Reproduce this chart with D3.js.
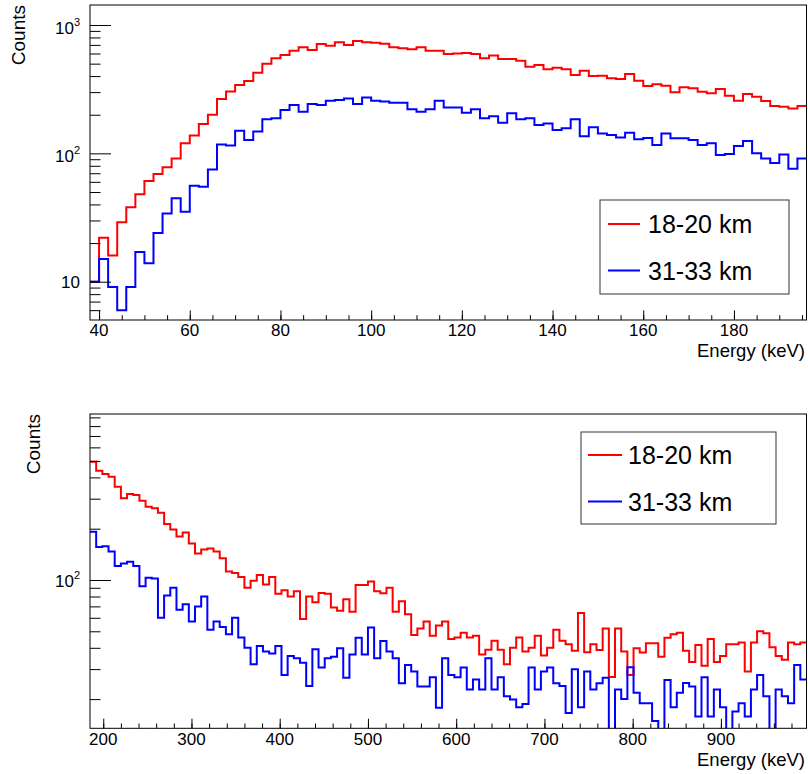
<!DOCTYPE html>
<html><head><meta charset="utf-8">
<script src="https://cdn.jsdelivr.net/npm/d3@7"></script>
<style>
body{margin:0;background:#fff}
svg{display:block}
text{font-family:"Liberation Sans",Arial,Helvetica,sans-serif;fill:#000}
</style>
</head><body>
<svg id="c" width="808" height="774"></svg>
<script>
// ---------------- data ----------------
const seriesLabels = ["18-20 km", "31-33 km"];
const seriesColors = ["#ff0000", "#0000ff"];
const yTitle = "Counts";
const xTitle = "Energy (keV)";

// top histogram: 2 keV bins starting at 38 keV
const topBinStart = 38, topBinWidth = 2;
const topRed = [10,22,16,29,38,48,61,69,78,91,120,138,169,200,265,303,341,366,425,500,
  550,583,631,670,638,711,690,733,698,750,733,728,715,670,658,646,670,631,631,594,
  601,605,594,550,580,543,543,527,473,487,452,465,452,408,441,400,403,384,380,415,
  368,335,345,337,299,327,321,302,294,317,281,257,290,276,256,234,231,224,234];
const topBlue = [10,15,9.1,6,9.1,17,13.9,24,34,44.6,35,56,55,75,117,115,150,127,148,184,
  188,218,238,211,242,238,257,260,268,242,273,257,253,248,248,221,211,221,257,228,
  228,207,221,188,195,173,205,184,188,166,171,152,157,184,136,160,143,139,133,145,
  129,132,116,143,131,131,127,116,120,97,99,114,125,100,91,84,98,76,91];
const topXTicks = [40,60,80,100,120,140,160,180];
const topYTicks = [10,100,1000];

// bottom histogram: 7 keV bins starting at 185 keV
const botBinStart = 185, botBinWidth = 7;
const botRed = [494,438,419,404,353,302,320,315,292,269,264,248,213,198,180,190,164,143,151,153,
  147,134,112,110,104,90,99,107,94,104,83,87,80,86,59,80,74,84,83,69,
  66,77,65,93.5,93.5,98,86,83.5,90,65,75,63,47.5,52,57,47,54,57,45,46,
  49,46,47,36.6,39,44,39,32,40,46,38,40,47,36,40,51,44,42,38.5,64,
  37.7,42,38.8,52,27,52,38,27.7,39.7,37.5,42.5,42.5,35.5,45.8,48,49,38.5,33,41.5,31.4,
  45,33,35.8,42,42,43,29,43,50,48.7,40.3,35.8,34,43,42,43];
const botBlue = [192,156,158,147,121,125,128,121,92,103,102,60,81,90,67,72,57,70,80,51,
  57,53,48,60,46,40,32,41,38,37,41,27.7,35.8,34.7,32.7,23.9,39.2,30.7,34.7,35.5,
  39.7,26.7,36.6,45.8,36.6,52.7,34.7,43.9,38,34.7,24.8,31.7,29,23.7,23.7,26.9,17.8,34.7,27.7,26.9,
  30.7,22.8,26.1,22.8,34.7,22.8,26.9,20.8,19.9,17.9,18.7,30.7,22.8,29,30.7,24.8,23.9,16.6,29.9,17.9,
  29,22.8,24.8,26.7,12,22.8,20,30.8,21.8,18.9,18.9,14.9,12,25.9,17.9,21.8,24.9,23.7,15.8,26.9,
  15.8,22.8,17.9,12,16.9,18.9,15.8,22.8,27.7,20.8,12,22.8,20.8,18.9,31.7,26.1];
const botXTicks = [200,300,400,500,600,700,800,900];
const botYTicks = [100];

// ---------------- layout ----------------
const panels = [
  { series:[topRed, topBlue], binStart: topBinStart, binWidth: topBinWidth,
    xDomain:[38,196], yDomain:[5.03,1432], left:90, right:806.5, top:5, bottom:320,
    xTicks: topXTicks, xMinorStep:5, yTicks: topYTicks,
    xLabelBase:336, xTitleBase:357, yTitleX:25,
    legend:{x:600,y:200,w:189,h:94,line0:608,line1:640,textX:648,row0:224,row1:270.5} },
  { series:[botRed, botBlue], binStart: botBinStart, binWidth: botBinWidth,
    xDomain:[185,997], yDomain:[13.48,942], left:90, right:806.5, top:414, bottom:728.3,
    xTicks: botXTicks, xMinorStep:20, yTicks: botYTicks,
    xLabelBase:745, xTitleBase:766, yTitleX:40,
    legend:{x:581,y:432,w:195,h:92,line0:588,line1:622,textX:628,row0:455,row1:501.5} }
];

const svg = d3.select("#c");

panels.forEach((p, pi) => {
  const x = d3.scaleLinear().domain(p.xDomain).range([p.left, p.right]);
  const y = d3.scaleLog().domain(p.yDomain).range([p.bottom, p.top]);
  const g = svg.append("g");

  const clipId = "clip" + pi;
  svg.append("clipPath").attr("id", clipId).append("rect")
    .attr("x", p.left).attr("y", p.top)
    .attr("width", p.right - p.left).attr("height", p.bottom - p.top);

  // histograms
  const line = d3.line().x(d => x(d[0])).y(d => y(d[1])).curve(d3.curveStepAfter);
  p.series.forEach((vals, si) => {
    const pts = vals.map((v, i) => [p.binStart + i * p.binWidth, v]);
    pts.push([p.binStart + vals.length * p.binWidth, vals[vals.length - 1]]);
    g.append("path").attr("d", line(pts))
      .attr("fill", "none").attr("stroke", seriesColors[si])
      .attr("stroke-width", 2).attr("clip-path", `url(#${clipId})`);
  });

  // frame
  g.append("rect").attr("x", p.left).attr("y", p.top)
    .attr("width", p.right - p.left).attr("height", p.bottom - p.top)
    .attr("fill", "none").attr("stroke", "#000").attr("stroke-width", 1);

  // x ticks (inside)
  const xMinor = d3.range(Math.ceil(p.xDomain[0] / p.xMinorStep) * p.xMinorStep, p.xDomain[1] + 1e-9, p.xMinorStep);
  const xAxisMinor = d3.axisBottom(x).tickValues(xMinor).tickSize(-4.8).tickFormat("");
  const xAxisMajor = d3.axisBottom(x).tickValues(p.xTicks).tickSize(-9.6).tickFormat("");
  [xAxisMinor, xAxisMajor].forEach(ax => {
    const a = g.append("g").attr("transform", `translate(0,${p.bottom})`).call(ax);
    a.select(".domain").remove();
    a.selectAll("line").attr("stroke", "#000");
  });
  g.selectAll(null).data(p.xTicks).enter().append("text")
    .attr("x", d => x(d)).attr("y", p.xLabelBase)
    .attr("text-anchor", "middle").attr("font-size", 17).text(d => d);

  // y ticks (log, inside)
  const lo = Math.floor(Math.log10(p.yDomain[0])), hi = Math.ceil(Math.log10(p.yDomain[1]));
  const yMinor = [];
  for (let e = lo; e <= hi; e++) for (let m = 2; m <= 9; m++) {
    const v = m * Math.pow(10, e);
    if (v >= p.yDomain[0] && v <= p.yDomain[1]) yMinor.push(v);
  }
  const yAxisMinor = d3.axisLeft(y).tickValues(yMinor).tickSize(-10.5).tickFormat("");
  const yAxisMajor = d3.axisLeft(y).tickValues(p.yTicks).tickSize(-21).tickFormat("");
  [yAxisMinor, yAxisMajor].forEach(ax => {
    const a = g.append("g").attr("transform", `translate(${p.left},0)`).call(ax);
    a.select(".domain").remove();
    a.selectAll("line").attr("stroke", "#000");
  });
  p.yTicks.forEach(v => {
    const e = Math.round(Math.log10(v));
    const t = g.append("text").attr("x", 80).attr("text-anchor", "end").attr("font-size", 17);
    if (e === 1) {
      t.attr("y", y(v) + 6).text("10");
    } else {
      t.attr("y", y(v) + (pi === 0 ? 9 : 7));
      t.append("tspan").text("10");
      t.append("tspan").attr("font-size", 11).attr("dy", -8).text(e);
    }
  });

  // axis titles
  g.append("text").attr("transform", `translate(${p.yTitleX},${p.top}) rotate(-90)`)
    .attr("text-anchor", "end").attr("font-size", 19).text(yTitle);
  g.append("text").attr("x", 805).attr("y", p.xTitleBase)
    .attr("text-anchor", "end").attr("font-size", 18.5).text(xTitle);

  // legend
  const L = p.legend;
  g.append("rect").attr("x", L.x).attr("y", L.y).attr("width", L.w).attr("height", L.h)
    .attr("fill", "#fff").attr("stroke", "#333").attr("stroke-width", 1);
  [L.row0, L.row1].forEach((ry, si) => {
    g.append("line").attr("x1", L.line0).attr("x2", L.line1).attr("y1", ry).attr("y2", ry)
      .attr("stroke", seriesColors[si]).attr("stroke-width", 2);
    g.append("text").attr("x", L.textX).attr("y", ry + 9).attr("font-size", 25).text(seriesLabels[si]);
  });
});
</script>
</body></html>
